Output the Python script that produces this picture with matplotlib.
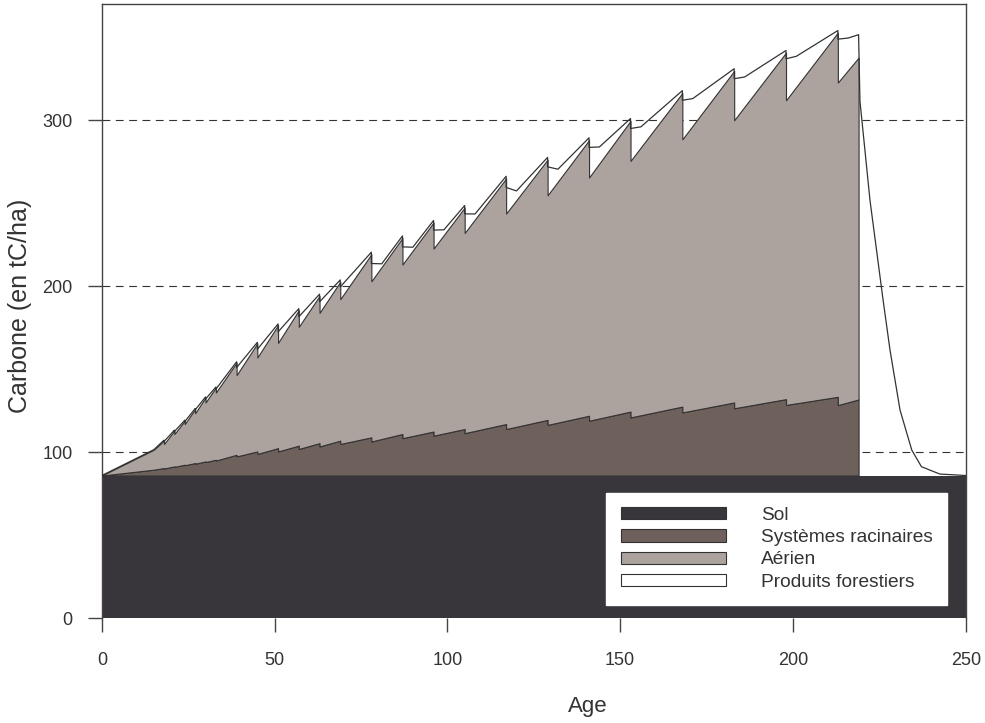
import matplotlib.pyplot as plt
from matplotlib.patches import Patch

plt.rcParams['font.family'] = ['Liberation Sans', 'DejaVu Sans']

# stock de carbone du sol (constant)
sol = 86

# age des coupes
cut_age = [18, 21, 24, 27, 30, 33, 39, 45, 51, 57, 63, 69, 78, 87, 96, 105,
           117, 129, 141, 153, 168, 183, 198, 213]
# aerien (cumule, tC/ha) juste avant / juste apres chaque coupe
aer_peak = [107, 113, 119, 126, 133, 139, 154, 165.6, 176.6, 185.6, 194.2, 202.7,
            219.3, 229.1, 238.4, 247.4, 264.9, 276.3, 288, 299.6, 316.4, 329.7, 340.7, 352.8]
aer_trough = [105, 111, 117, 123.5, 130, 136, 146.5, 157.1, 165.9, 175.6, 184, 192.2,
              203, 213.1, 222.7, 232.1, 243.8, 254.8, 265.5, 275.5, 288.5, 300, 312, 322.7]
# systemes racinaires (cumule)
root_peak = [90.5, 91.5, 92.5, 93.5, 94.5, 95.5, 98.5, 100.5, 102.5, 104, 105.5, 107,
             109, 111, 112.5, 114, 117, 119.5, 122, 124.5, 127.5, 130, 132, 133.4]
root_trough = [90.2, 91.2, 92.2, 93.1, 94.1, 95, 97.5, 99, 100.5, 102, 103.5, 105,
               106.5, 108.5, 110, 111.5, 114, 116.5, 119, 121, 124, 126.5, 128.5, 128.4]
# produits forestiers (cumule) au moment de chaque coupe
prod_peak = [107.3, 113.3, 119.3, 126.3, 133.3, 139.3, 154.5, 166.2, 177.3, 186.5, 195.2, 203.8,
             220.5, 230.3, 239.6, 248.6, 266.2, 277.6, 289.4, 301, 317.8, 331, 342, 354]
prod_after = [106.5, 112.5, 118.5, 125.5, 132, 138, 151, 162, 172.5, 181.6, 190.6, 199.6,
              213.7, 223.7, 233.8, 243.6, 259.5, 271.9, 283.6, 295, 312, 325, 337, 348.8]
prod_mid_age = [81, 90, 99, 108, 120, 132, 144, 156, 171, 186, 201, 216]
prod_mid = [213.5, 223.5, 234, 243.5, 257.4, 270.5, 283.9, 296, 313, 326, 338.5, 349.5]

start_age = [0, 15]
start_aer = [86, 101.5]
start_root = [86, 89.5]
end_age = 219
end_aer = 337.7
end_root = 131.8
end_prod = 351.5
decay_age = [219.4, 222.3, 226.1, 228.1, 231, 234.4, 237.2, 242.5, 250]
decay_prod = [311.5, 251.8, 191.6, 161.5, 125.4, 101.3, 91.3, 86.9, 86]

labels = ['Sol', 'Systèmes racinaires', 'Aérien', 'Produits forestiers']
c_sol = '#38363b'
c_root = '#6e615c'
c_aer = '#aca29e'
c_line = '#333333'

# series en dents de scie
x = list(start_age)
y_aer = list(start_aer)
y_root = list(start_root)
for i, t in enumerate(cut_age):
    x += [t, t]
    y_aer += [aer_peak[i], aer_trough[i]]
    y_root += [root_peak[i], root_trough[i]]
x.append(end_age)
y_aer.append(end_aer)
y_root.append(end_root)

px = list(start_age)
py = list(start_aer)
for i, t in enumerate(cut_age):
    px += [t, t]
    py += [prod_peak[i], prod_after[i]]
    if t + 3 in prod_mid_age:
        px.append(t + 3)
        py.append(prod_mid[prod_mid_age.index(t + 3)])
px += [end_age] + decay_age
py += [end_prod] + decay_prod

fig, ax = plt.subplots(figsize=(9.85, 7.23), dpi=100)
fig.subplots_adjust(left=0.1034, right=0.9804, top=0.9945, bottom=0.1448)

ax.fill_between([0, 250], 0, sol, color=c_sol, lw=0, zorder=2)
ax.fill_between(x, sol, y_root, facecolor=c_root, edgecolor=c_line, lw=0.8, zorder=3)
ax.fill_between(x, y_root, y_aer, facecolor=c_aer, edgecolor=c_line, lw=0.8, zorder=3)
ax.plot(px, py, color=c_line, lw=0.9, zorder=4)

ax.set_xlim(0, 250)
ax.set_ylim(0, 370)
ax.set_xticks([0, 50, 100, 150, 200, 250])
ax.set_yticks([0, 100, 200, 300])
ax.set_axisbelow(True)
ax.yaxis.grid(True, linestyle=(0, (7, 5)), color=c_line, lw=0.8)
ax.spines['bottom'].set_visible(False)
for s in ['top', 'left', 'right']:
    ax.spines[s].set_color('#444444')
    ax.spines[s].set_linewidth(1)
ax.tick_params(direction='out', length=10, width=1, color='#444444',
               labelsize=13, labelcolor='#333333')
ax.tick_params(axis='x', pad=14)
ax.tick_params(axis='y', pad=11)

ax.set_xlabel('Age', fontsize=16, color='#333333')
ax.set_ylabel('Carbone (en tC/ha)', fontsize=18, color='#333333')
ax.xaxis.set_label_coords(0.563, -0.126)
ax.yaxis.set_label_coords(-0.081, 0.508)

handles = [Patch(facecolor=c, edgecolor=c_line, lw=0.8)
           for c in [c_sol, c_root, c_aer, 'white']]
leg = ax.legend(handles, labels, loc='lower right', bbox_to_anchor=(0.9784, 0.0217),
                borderaxespad=0, fontsize=13.8, handlelength=5.5, handleheight=0.6,
                labelspacing=0.27, handletextpad=1.8, borderpad=0.75,
                fancybox=False, framealpha=1, edgecolor='white', facecolor='white')
for t in leg.get_texts():
    t.set_color('#333333')

plt.savefig('out.png')
